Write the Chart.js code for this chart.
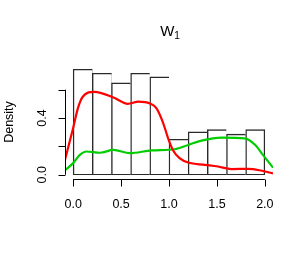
<!DOCTYPE html>
<html><head><meta charset="utf-8">
<script src="https://cdn.jsdelivr.net/npm/chart.js@4"></script>
<style>html,body{margin:0;padding:0;background:#fff}#wrap{width:306px;height:261px}</style>
</head><body><div id="wrap"><canvas id="c" width="306" height="261"></canvas></div>
<script>
const binCenters = [0.1,0.3,0.5,0.7,0.9,1.1,1.3,1.5,1.7,1.9];
const binDensity = [0.744,0.716,0.648,0.716,0.690,0.250,0.302,0.318,0.286,0.318];
const redX = [-0.087,0.0,0.05,0.10,0.22,0.42,0.57,0.68,0.80,0.87,0.94,0.99,1.04,1.11,1.20,1.375,1.51,1.65,1.83,1.97,2.085];
const redY = [0.10,0.33,0.47,0.55,0.585,0.545,0.50,0.515,0.503,0.468,0.363,0.258,0.175,0.117,0.086,0.070,0.058,0.040,0.042,0.028,0.010];
const greenX = [-0.087,0.0,0.07,0.14,0.28,0.42,0.59,0.82,1.06,1.20,1.34,1.55,1.79,1.90,1.98,2.085];
const greenY = [0.03,0.082,0.14,0.164,0.155,0.175,0.152,0.172,0.180,0.21,0.241,0.262,0.257,0.21,0.14,0.05];
const xTicks = [0,0.5,1,1.5,2];
const xTickLabels = ['0.0','0.5','1.0','1.5','2.0'];
const yTicks = [0,0.2,0.4,0.6];
const yTickLabels = ['0.0','','0.4',''];
const titleMain = 'W';
const titleSub = '1';
const yAxisTitle = 'Density';

const FONT = '"Liberation Sans", Arial, Helvetica, sans-serif';

const rAxes = {
  id: 'rAxes',
  afterDraw(chart) {
    const ctx = chart.ctx, xs = chart.scales.x, ys = chart.scales.y, ca = chart.chartArea;
    ctx.save();
    ctx.strokeStyle = '#000'; ctx.lineWidth = 1; ctx.fillStyle = '#000';
    // x axis
    const yb = Math.round(ca.bottom) + 0.5;
    ctx.beginPath();
    ctx.moveTo(xs.getPixelForValue(xTicks[0]), yb);
    ctx.lineTo(xs.getPixelForValue(xTicks[xTicks.length-1]), yb);
    xTicks.forEach(v => { const p = Math.round(xs.getPixelForValue(v)) + 0.5; ctx.moveTo(p, yb); ctx.lineTo(p, yb + 7); });
    ctx.stroke();
    ctx.font = '12.5px ' + FONT; ctx.textAlign = 'center'; ctx.textBaseline = 'middle';
    xTicks.forEach((v, i) => ctx.fillText(xTickLabels[i], xs.getPixelForValue(v), yb + 25));
    // y axis
    const xl = Math.round(ca.left) + 0.5;
    ctx.beginPath();
    ctx.moveTo(xl, ys.getPixelForValue(yTicks[0]));
    ctx.lineTo(xl, ys.getPixelForValue(yTicks[yTicks.length-1]));
    yTicks.forEach(v => { const p = Math.round(ys.getPixelForValue(v)) + 0.5; ctx.moveTo(xl, p); ctx.lineTo(xl - 7, p); });
    ctx.stroke();
    yTicks.forEach((v, i) => {
      if (!yTickLabels[i]) return;
      ctx.save(); ctx.translate(xl - 23, ys.getPixelForValue(v)); ctx.rotate(-Math.PI/2);
      ctx.fillText(yTickLabels[i], 0, 0); ctx.restore();
    });
    ctx.save(); ctx.translate(10, (ca.top + ca.bottom)/2); ctx.rotate(-Math.PI/2);
    ctx.fillText(yAxisTitle, 0, 0); ctx.restore();
    // title
    const cx = (ca.left + ca.right)/2;
    ctx.font = '15px ' + FONT; ctx.textAlign = 'left'; ctx.textBaseline = 'alphabetic';
    const wW = ctx.measureText(titleMain).width;
    ctx.font = '10px ' + FONT;
    const wS = ctx.measureText(titleSub).width;
    const x0 = cx - (wW + wS)/2 + 1;
    ctx.font = '15px ' + FONT; ctx.fillText(titleMain, x0, 36);
    ctx.font = '10px ' + FONT; ctx.fillText(titleSub, x0 + wW, 39);
    ctx.restore();
  }
};

new Chart(document.getElementById('c'), {
  type: 'bar',
  data: {
    datasets: [
      { type: 'line', data: redX.map((x,i)=>({x, y: redY[i]})), borderColor: '#ff0000', borderWidth: 2.2,
        pointRadius: 0, cubicInterpolationMode: 'monotone', fill: false, order: 0 },
      { type: 'line', data: greenX.map((x,i)=>({x, y: greenY[i]})), borderColor: '#00cd00', borderWidth: 2.2,
        pointRadius: 0, cubicInterpolationMode: 'monotone', fill: false, order: 0 },
      { type: 'bar', data: binCenters.map((x,i)=>({x, y: binDensity[i]})), backgroundColor: '#ffffff',
        borderColor: '#2a2a2a', barPercentage: 1, categoryPercentage: 1, grouped: false, order: 1,
        borderSkipped: false,
        borderWidth: (c) => ({left: 1.4, top: 1.4, bottom: 1.2, right: c.dataIndex === binCenters.length - 1 ? 1.4 : 0}) }
    ]
  },
  options: {
    responsive: false, animation: false, devicePixelRatio: 1,
    layout: { padding: { left: 65, right: 33, top: 65, bottom: 82 } },
    plugins: { legend: { display: false }, tooltip: { enabled: false }, title: { display: false } },
    scales: {
      x: { type: 'linear', min: -0.085, max: 2.085, display: false, offset: false },
      y: { type: 'linear', min: -0.03, max: 0.774, display: false }
    }
  },
  plugins: [rAxes]
});
</script></body></html>
